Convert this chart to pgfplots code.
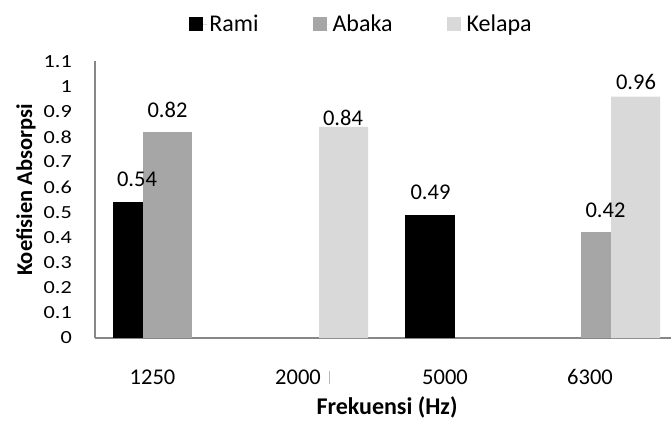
\documentclass[border=0pt]{standalone}
\usepackage{fontspec}
\setmainfont{Carlito}
\newfontfamily\yfont[FakeStretch=1.2]{Carlito}
\usepackage{pgfplots}
\pgfplotsset{compat=1.18}
\definecolor{axisgray}{RGB}{135,135,135}
\definecolor{rami}{RGB}{0,0,0}
\definecolor{abaka}{RGB}{166,166,166}
\definecolor{kelapa}{RGB}{217,217,217}
\begin{document}
\begin{tikzpicture}
\useasboundingbox (-95bp,-83bp) rectangle (576bp,338bp);
\begin{axis}[
  at={(0,0)}, anchor=south west,
  scale only axis, width=576bp, height=276.5bp,
  xmin=95, xmax=671, ymin=0, ymax=1.1,
  axis x line=bottom, axis y line=left,
  axis line style={-, draw=axisgray, line width=1.8bp},
  major tick length=0pt, tick style={draw=none},
  xtick={152.5,298,445,590},
  xticklabels={1250,2000\rlap{\hspace{8bp}\smash{\color{axisgray!60}\rule{0.6bp}{13bp}}},5000,6300},
  xticklabel style={anchor=center, inner sep=0pt, yshift=-39bp, font=\fontsize{22.5bp}{25bp}\selectfont},
  ytick={0,0.1,0.2,0.3,0.4,0.5,0.6,0.7,0.8,0.9,1,1.1},
  yticklabels={0,0.1,0.2,0.3,0.4,0.5,0.6,0.7,0.8,0.9,1,1.1},
  yticklabel style={anchor=east, inner sep=0pt, xshift=-23bp, font=\yfont\fontsize{18.5bp}{20bp}\selectfont},
  xlabel={Frekuensi (Hz)},
  xlabel style={at={(axis description cs:0.507,-0.2496)}, anchor=center, inner sep=0pt, font=\bfseries\fontsize{24bp}{28bp}\selectfont},
  ylabel={Koefisien Absorpsi},
  ylabel style={at={(axis description cs:-0.1198,0.535)}, anchor=center, rotate=0, inner sep=0pt, font=\bfseries\fontsize{22.5bp}{27bp}\selectfont},
  legend columns=3,
  legend style={draw=none, fill=none, at={(axis description cs:0.4627,1.1356)}, anchor=center,
    font=\fontsize{24bp}{28bp}\selectfont,
    /tikz/every even column/.append style={column sep=52bp}},
  legend image code/.code={\fill[#1] (0bp,-7bp) rectangle (14bp,7bp); \path (0bp,0bp) -- (18bp,0bp);},
  clip=false,
]
% Rami
\addplot[ybar, bar shift=0pt, bar width=30, fill=rami, draw=none] coordinates {(128,0.54)};
\addlegendentry{Rami}
\addplot[ybar, bar shift=0pt, bar width=50, fill=rami, draw=none, forget plot] coordinates {(430,0.49)};
% Abaka
\addplot[ybar, bar shift=0pt, bar width=49, fill=abaka, draw=none] coordinates {(167.5,0.82)};
\addlegendentry{Abaka}
\addplot[ybar, bar shift=0pt, bar width=30, fill=abaka, draw=none, forget plot] coordinates {(596,0.42)};
% Kelapa
\addplot[ybar, bar shift=0pt, bar width=49, fill=kelapa, draw=none] coordinates {(343.5,0.84) (635.5,0.96)};
\addlegendentry{Kelapa}
% data labels
\addplot[draw=none, mark=none, forget plot, nodes near coords, point meta=explicit symbolic,
  nodes near coords style={anchor=center, inner sep=0pt, font=\fontsize{22.5bp}{25bp}\selectfont}]
  coordinates {(137,0.630)[0.54] (167.5,0.907)[0.82] (343,0.875)[0.84] (430.5,0.581)[0.49] (605.5,0.509)[0.42] (636,1.018)[0.96]};
\end{axis}
\end{tikzpicture}
\end{document}
